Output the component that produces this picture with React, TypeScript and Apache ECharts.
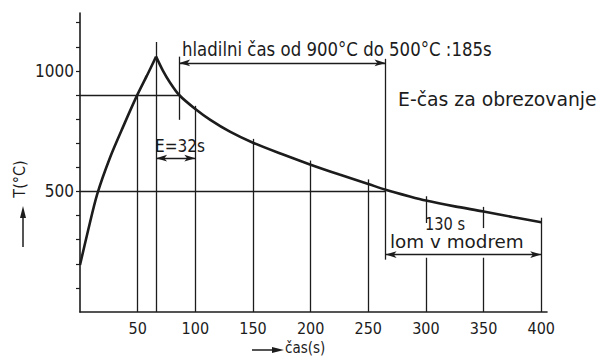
import React, { useEffect, useRef } from "react";
import * as echarts from "echarts";

// heating branch (time s, temperature °C)
const heatTime = [0, 7, 15, 26, 38, 49, 58, 66];
const heatTemp = [195, 338, 490, 640, 775, 893, 980, 1059];
// cooling branch
const coolTime = [66, 72, 78, 86, 100, 113, 130, 150, 175, 200, 225, 250, 265, 286, 300, 325, 350, 375, 400];
const coolTemp = [1059, 1000, 952, 900, 842, 797, 748, 702, 655, 611, 570, 531, 507, 479, 462, 438, 417, 394, 372];

// axis ticks / labels
const xTickLabels = [50, 100, 150, 200, 250, 300, 350, 400];
const yTickLabels = [500, 1000];
const yTicks = [100, 200, 300, 400, 500, 600, 700, 800, 900, 1000, 1100, 1200];

// vertical guide segments: time, from temperature, to temperature
const guideTime = [50, 66, 86, 100, 150, 200, 250, 265, 300, 300, 350, 350, 400];
const guideFrom = [0, 0, 797, 0, 0, 0, 0, 217, 0, 369, 0, 348, 0];
const guideTo = [900, 1120, 1059, 855, 718, 628, 550, 1050, 225, 480, 225, 436, 391];

// horizontal reference lines
const refTemp = [900, 500];
const refEnd = [86, 265];

// dimension lines (with arrows)
const dimStart = [86, 66, 265];
const dimEnd = [265, 100, 400];
const dimTemp = [1033, 638, 238];

const INK = "#1c1c1c";
const FONT = "'DejaVu Sans Condensed', 'Liberation Sans Narrow', sans-serif";

export default function App() {
  const ref = useRef<HTMLDivElement>(null);
  useEffect(() => {
    if (!ref.current) return;
    const chart = echarts.init(ref.current, undefined, { renderer: "svg" });
    const heat = heatTime.map((t, i) => [t, heatTemp[i]]);
    const cool = coolTime.map((t, i) => [t, coolTemp[i]]);
    const guides = guideTime.map((t, i) => [
      { coord: [t, guideFrom[i]] },
      { coord: [t, guideTo[i]] },
    ]);
    const refs = refTemp.map((v, i) => [{ coord: [0, v] }, { coord: [refEnd[i], v] }]);
    const dims = dimTemp.map((v, i) => [
      { coord: [dimStart[i], v] },
      { coord: [dimEnd[i], v] },
    ]);
    const text = (
      t: string,
      x: number,
      y: number,
      size: number,
      extra: any = {}
    ) => ({
      type: "text",
      x,
      y,
      silent: true,
      ...extra,
      style: {
        text: t,
        fontSize: size,
        fontFamily: FONT,
        fill: INK,
        verticalAlign: "middle",
        align: extra.align || "left",
      },
    });
    chart.setOption({
      animation: false,
      backgroundColor: "#ffffff",
      grid: { left: 80, right: 54, top: 13, bottom: 45 },
      xAxis: {
        type: "value",
        min: 0,
        max: 405,
        splitLine: { show: false },
        axisLine: { show: true, lineStyle: { color: INK, width: 1.6 } },
        axisTick: { show: false },
        axisLabel: {
          customValues: xTickLabels,
          formatter: (v: number) => String(v),
          color: INK,
          fontSize: 16,
          fontFamily: FONT,
          margin: 8,
        },
      },
      yAxis: {
        type: "value",
        min: 0,
        max: 1240,
        splitLine: { show: false },
        axisLine: { show: true, lineStyle: { color: INK, width: 1.6 } },
        axisTick: {
          show: true,
          customValues: yTicks,
          length: 4,
          lineStyle: { color: INK, width: 1.2 },
        },
        axisLabel: {
          customValues: yTickLabels,
          formatter: (v: number) => String(v),
          color: INK,
          fontSize: 17,
          fontFamily: FONT,
          margin: 6,
        },
      },
      series: [
        {
          type: "line",
          data: [],
          silent: true,
          markLine: {
            silent: true,
            symbol: ["none", "none"],
            label: { show: false },
            lineStyle: { color: INK, width: 1.3, type: "solid" },
            emphasis: { disabled: true },
            data: [...guides, ...refs],
          },
        },
        {
          type: "line",
          data: [],
          silent: true,
          markLine: {
            silent: true,
            symbol: ["arrow", "arrow"],
            symbolSize: [5, 11],
            label: { show: false },
            lineStyle: { color: INK, width: 1.3, type: "solid" },
            itemStyle: { color: INK },
            emphasis: { disabled: true },
            data: dims,
          },
        },
        {
          type: "line",
          data: heat,
          smooth: 0.3,
          showSymbol: false,
          silent: true,
          z: 5,
          lineStyle: { color: INK, width: 2.6 },
        },
        {
          type: "line",
          data: cool,
          smooth: 0.3,
          showSymbol: false,
          silent: true,
          z: 5,
          lineStyle: { color: INK, width: 2.6 },
        },
      ],
      graphic: [
        text("hladilni čas od 900°C do 500°C :185s", 182, 49, 19, { scaleX: 0.97 }),
        text("E-čas za obrezovanje", 398, 99, 19, { scaleX: 1.1 }),
        text("E=32s", 155, 146, 17),
        text("130 s", 425, 224, 18, { scaleX: 0.9 }),
        text("lom v modrem", 390, 242, 17, { scaleX: 1.2 }),
        text("T(°C)", 19, 179, 16, { rotation: Math.PI / 2, align: "center" }),
        text("čas(s)", 285, 348, 15),
        {
          type: "line",
          silent: true,
          shape: { x1: 252, y1: 350, x2: 276, y2: 350 },
          style: { stroke: INK, lineWidth: 1.5 },
        },
        {
          type: "polygon",
          silent: true,
          shape: { points: [[272, 347], [272, 353], [284, 350]] },
          style: { fill: INK },
        },
        {
          type: "line",
          silent: true,
          shape: { x1: 23, y1: 247, x2: 23, y2: 214 },
          style: { stroke: INK, lineWidth: 1.5 },
        },
        {
          type: "polygon",
          silent: true,
          shape: { points: [[20, 218], [26, 218], [23, 206]] },
          style: { fill: INK },
        },
      ],
    });
    return () => chart.dispose();
  }, []);
  return (
    <div
      ref={ref}
      style={{ position: "absolute", left: 0, top: 0, width: 601, height: 357 }}
    />
  );
}
